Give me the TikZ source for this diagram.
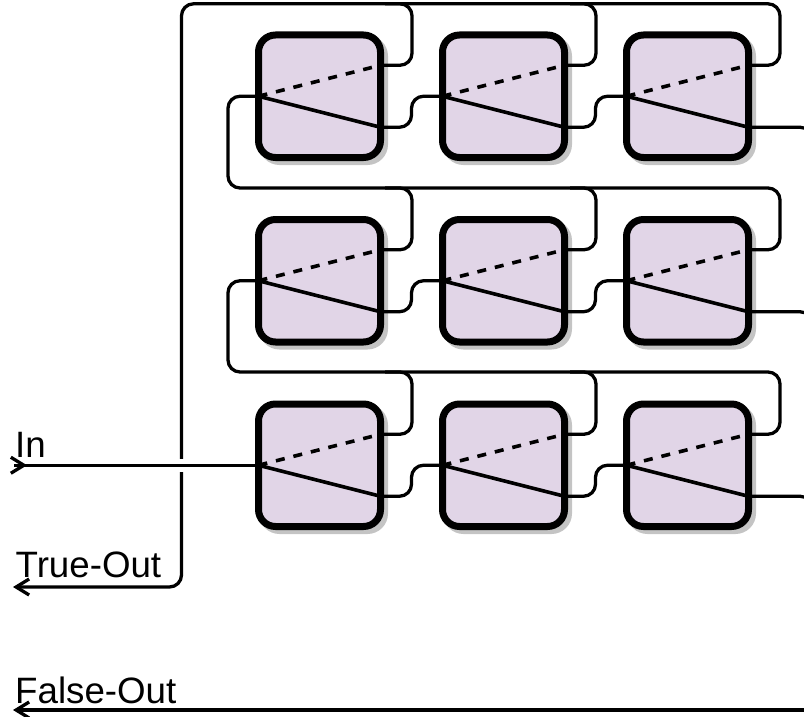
\documentclass[tikz,border=0pt]{standalone}
\usepackage{fontspec}
\setmainfont{Liberation Sans}
\usetikzlibrary{arrows.meta,calc,shadows}
\definecolor{cellfill}{HTML}{E1D5E7}
\definecolor{cellshadow}{HTML}{C4C4C4}
\tikzset{
    cellbox/.style={draw=black,fill=cellfill,line width=7pt,rounded corners=17pt,
        minimum width=122pt,minimum height=122.5pt,inner sep=0pt,outer sep=0pt,
        drop shadow={shadow xshift=4pt,shadow yshift=-4pt,fill=cellshadow,draw=cellshadow,opacity=1}},
    wire/.style={line width=3.3pt,rounded corners=12pt},
    switchline/.style={line width=3.6pt},
    tipped/.style={-{Straight Barb[length=13pt,width=16pt,line width=3.3pt]}},
    portlabel/.style={anchor=base west,inner sep=0pt,font=\fontsize{36.7}{40}\selectfont}
}
\begin{document}
\begin{tikzpicture}[x=1pt,y=-1pt]
    \path[use as bounding box] (0,0) rectangle (804,717);
    \clip (0,0) rectangle (804,717);
    % cells
    \foreach \r/\y in {1/96.25,2/280.75,3/465.25}
        \foreach \c/\x in {1/319.5,2/503.5,3/687.5} {
            \node[cellbox] (cell\r\c) at (\x,\y) {};
            \coordinate (t\r\c) at ($(cell\r\c.east)+(0,-31)$);
            \coordinate (f\r\c) at ($(cell\r\c.east)+(0,31)$);
        }
    \coordinate (inend) at (14,465.25);
    \coordinate (intip) at (27,465.25);
    \coordinate (truetip) at (13,587);
    \coordinate (falsetip) at (13,710);
    \coordinate (cross) at (181.5,465.25);
    % true outputs
    \draw[wire,tipped] (t13) -| (780,3.8) -- (181.5,3.8) |- (truetip);
    \draw[wire] (t11) -| (412,3.8) -- (385,3.8);
    \draw[wire] (t12) -| (596,3.8) -- (570,3.8);
    \foreach \r/\n/\rail in {2/1/188,3/2/372} {
        \draw[wire] (t\r3) -| (780,\rail) -- (228,\rail) |- (cell\n1.west);
        \draw[wire] (t\r1) -| (412,\rail) -- (385,\rail);
        \draw[wire] (t\r2) -| (596,\rail) -- (570,\rail);
    }
    % false outputs
    \foreach \r in {1,2,3} {
        \draw[wire] (f\r1) -| ($(cell\r2.west)+(-31,0)$) -- (cell\r2.west);
        \draw[wire] (f\r2) -| ($(cell\r3.west)+(-31,0)$) -- (cell\r3.west);
        \draw[wire] (f\r3) -| (812,725);
    }
    \draw[wire,tipped] (830,710) -- (falsetip);
    % input
    \draw[white,line width=13pt] ($(cross)+(-6,0)$) -- ($(cross)+(6,0)$);
    \draw[wire] (inend) -- (cell31.west);
    \draw[wire,tipped] (inend) -- (intip);
    % switches
    \foreach \r in {1,2,3}
        \foreach \c in {1,2,3} {
            \draw[switchline] (cell\r\c.west) -- (f\r\c);
            \draw[switchline,dash pattern=on 9pt off 9pt] (cell\r\c.west) -- (t\r\c);
        }
    \node[portlabel] (inlabel) at (15,457) {In};
    \node[portlabel] (truelabel) at (15.5,577) {True-Out};
    \node[portlabel] (falselabel) at (15,703) {False-Out};
\end{tikzpicture}
\end{document}
